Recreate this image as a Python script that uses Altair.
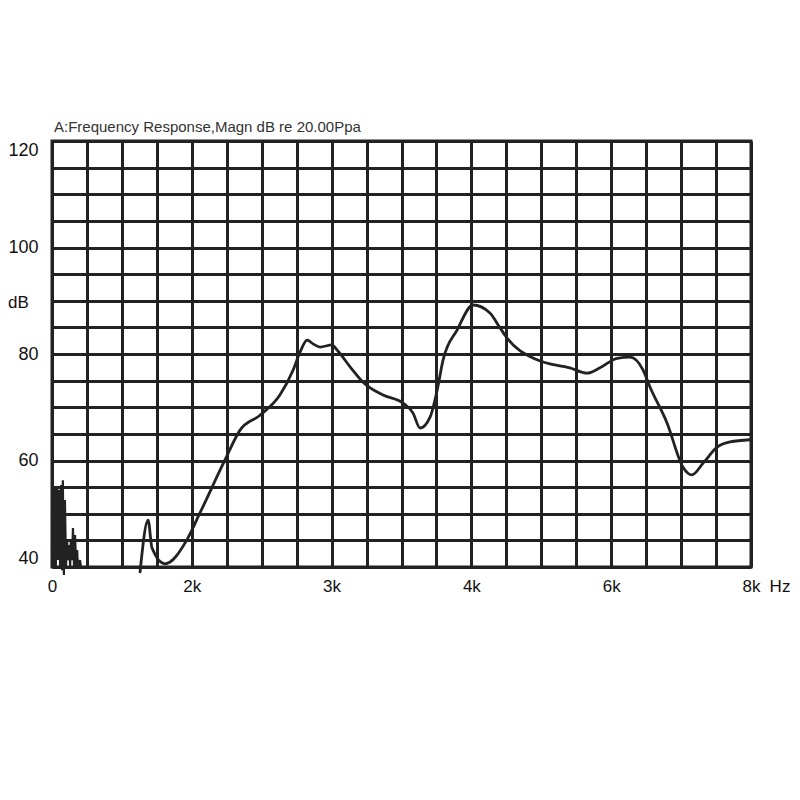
import altair as alt
import pandas as pd

# x positions are in grid columns (0..20); the axis labels are non-linear frequency marks
x_label_pos = [0, 4, 8, 12, 16, 20]
x_label_txt = ["0", "2k", "3k", "4k", "6k", "8k"]
x_grid = list(range(0, 21))
y_grid = list(range(40, 121, 5))
y_label_vals = [40, 60, 80, 100, 120]

# low-frequency noise burst
noise_pos = [0.00, 0.03, 0.06, 0.09, 0.11, 0.14, 0.17, 0.20, 0.23, 0.26, 0.29, 0.31, 0.34, 0.37,
             0.40, 0.43, 0.46, 0.49, 0.52, 0.54, 0.57, 0.60, 0.63, 0.66, 0.69, 0.72, 0.74, 0.80, 0.83]
noise_db = [40.0, 54.5, 40.0, 54.8, 40.0, 55.0, 41.3, 54.5, 40.0, 55.4, 39.4, 56.3, 38.5, 52.6,
            40.0, 45.1, 41.3, 44.1, 40.0, 45.1, 41.3, 47.3, 40.0, 46.0, 40.0, 43.2, 40.0, 41.3, 40.0]

# main response curve
resp_pos = [2.52, 2.75, 2.86, 3.23, 3.86, 4.23, 4.95, 5.38, 5.95, 6.52, 6.90, 7.10, 7.30, 7.47,
            7.67, 8.01, 8.15, 8.53, 8.90, 9.47, 10.04, 10.33, 10.53, 10.82, 11.02, 11.19, 11.59,
            12.05, 12.53, 12.82, 13.02, 13.88, 14.82, 15.31, 15.68, 16.17, 16.54, 16.91, 17.11,
            17.60, 18.05, 18.31, 18.63, 19.03, 19.40, 19.97]
resp_db = [39.1, 48.8, 43.6, 40.6, 45.1, 50.1, 60.1, 65.7, 68.5, 72.3, 77.0, 80.4, 82.6, 81.9,
           81.3, 81.7, 80.8, 77.6, 74.7, 72.3, 70.8, 68.9, 66.1, 68.2, 73.2, 78.9, 84.5,
           89.2, 87.7, 84.9, 83.0, 78.9, 77.4, 76.4, 77.4, 79.2, 79.4, 77.0, 73.8,
           67.0, 58.8, 57.3, 59.5, 62.5, 63.5, 63.9]

title_text = "A:Frequency Response,Magn dB re 20.00Ppa"

noise_df = pd.DataFrame({"pos": noise_pos, "db": noise_db, "i": range(len(noise_pos))})
resp_df = pd.DataFrame({"pos": resp_pos, "db": resp_db, "i": range(len(resp_pos))})

x_expr = " : ".join([f"datum.value == {p} ? '{t}'" for p, t in zip(x_label_pos, x_label_txt)]) + " : ''"
y_expr = " : ".join([f"datum.value == {v} ? '{v}'" for v in y_label_vals]) + " : ''"

W, H = 699, 426
FONT = "Liberation Sans"
INK = "#222222"

x_enc = alt.X("pos:Q", scale=alt.Scale(domain=[0, 20], nice=False, zero=False),
              axis=alt.Axis(values=x_grid, labelExpr=x_expr, title=None, grid=True,
                            gridColor=INK, gridWidth=3, gridOpacity=1, domain=False, ticks=False,
                            labelFlush=False, labelPadding=11, labelFontSize=17, labelFont=FONT,
                            labelColor="#111"))
y_enc = alt.Y("db:Q", scale=alt.Scale(domain=[40, 120], nice=False, zero=False),
              axis=alt.Axis(values=y_grid, labelExpr=y_expr, title=None, grid=True,
                            gridColor=INK, gridWidth=3, gridOpacity=1, domain=False, ticks=False,
                            labelFlush=True, labelPadding=14, labelFontSize=18, labelFont=FONT,
                            labelColor="#111"))

noise = alt.Chart(noise_df).mark_line(color=INK, strokeWidth=2.2).encode(
    x=x_enc, y=y_enc, order="i:Q")

resp = alt.Chart(resp_df).mark_line(color=INK, strokeWidth=2.8, interpolate="monotone",
                                    strokeJoin="round", strokeCap="round").encode(
    x=x_enc, y=y_enc, order="i:Q")

title = alt.Chart(pd.DataFrame({"t": [title_text]})).mark_text(
    align="left", baseline="middle", fontSize=15, font=FONT, color="#333").encode(
    x=alt.value(2), y=alt.value(-14), text="t:N")

db_lbl = alt.Chart(pd.DataFrame({"t": ["dB"]})).mark_text(
    align="left", baseline="middle", fontSize=17, font=FONT, color="#111").encode(
    x=alt.value(-44), y=alt.value(162), text="t:N")

hz_lbl = alt.Chart(pd.DataFrame({"t": ["Hz"]})).mark_text(
    align="center", baseline="middle", fontSize=17, font=FONT, color="#111").encode(
    x=alt.value(728), y=alt.value(20 + H), text="t:N")

chart = alt.layer(noise, resp, title, db_lbl, hz_lbl).properties(
    width=W, height=H,
    autosize=alt.AutoSizeParams(type="none"),
    padding={"left": 44, "top": 133, "right": 40, "bottom": 150},
    background="white",
).configure_view(stroke=INK, strokeWidth=3)

chart.save("out.html", embed_options={"renderer": "svg", "actions": False})
